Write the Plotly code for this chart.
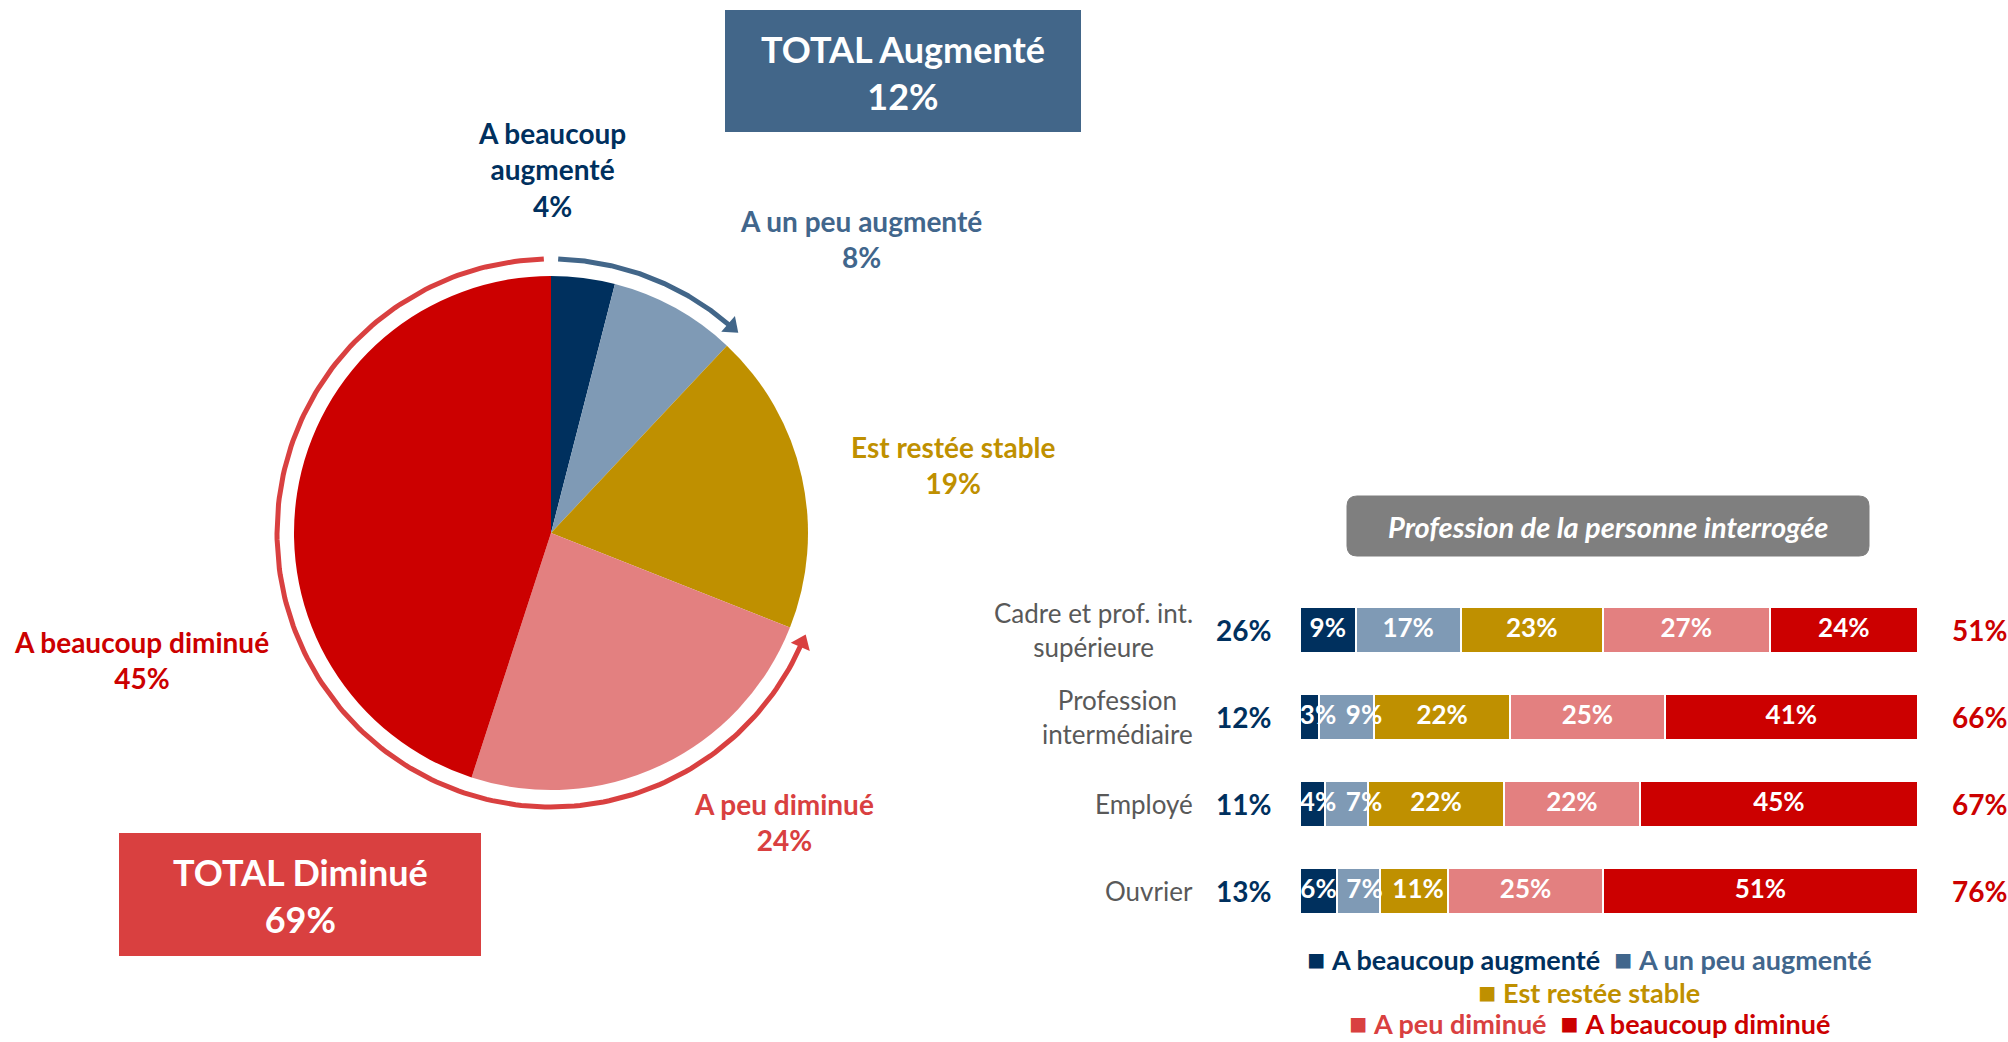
import numpy as np
import plotly.graph_objects as go

W, H = 2008, 1042
FONT = "Lato"

# ---- data ----
answers = ["A beaucoup augmenté", "A un peu augmenté", "Est restée stable",
           "A peu diminué", "A beaucoup diminué"]
pie_values = [4, 8, 19, 24, 45]

professions = ["Cadre et prof. int.<br>supérieure", "Profession<br>intermédiaire",
               "Employé", "Ouvrier"]
beaucoup_augmente = [9, 3, 4, 6]
peu_augmente = [17, 9, 7, 7]
restee_stable = [23, 22, 22, 11]
peu_diminue = [27, 25, 22, 25]
beaucoup_diminue = [24, 41, 45, 51]

fill_colors = ["#00305E", "#7F9AB5", "#BF9000", "#E38080", "#CC0000"]
text_colors = ["#00305E", "#41668C", "#BF9000", "#D94040", "#CC0000"]
box_blue = "#426689"
box_red = "#D94040"
grey_text = "#595959"


def px(x):
    return x / W


def py(y):
    return 1 - y / H


def label(x, y, text, size, color, xanchor="center", **kw):
    kw.setdefault("xref", "paper")
    kw.setdefault("yref", "paper")
    fig.add_annotation(x=x, y=y, text=text, showarrow=False, xanchor=xanchor,
                       yanchor="middle", font=dict(size=size, color=color, family=FONT),
                       **kw)


fig = go.Figure()

# ---- pie ----
cx, cy, r = 551, 533, 257
fig.add_trace(go.Pie(
    values=pie_values, labels=answers, sort=False, direction="clockwise", rotation=0,
    marker=dict(colors=fill_colors, line=dict(width=0)),
    textinfo="none", hoverinfo="label+percent", showlegend=False,
    domain=dict(x=[px(cx - r), px(cx + r)], y=[py(cy + r), py(cy - r)]),
))

# arcs around the pie (overlay axis, 1 unit = pie radius)
ext = 300
ring = 274 / r
total_aug = sum(pie_values[:2])
total_dim = sum(pie_values[3:])


def arc(t0, t1, color, head):
    t = np.radians(np.linspace(t0, t1, 200))
    fig.add_trace(go.Scatter(
        x=ring * np.sin(t), y=ring * np.cos(t), mode="lines",
        line=dict(color=color, width=5), xaxis="x2", yaxis="y2",
        hoverinfo="skip", showlegend=False))
    te = np.radians(t1)
    fig.add_trace(go.Scatter(
        x=[ring * np.sin(te)], y=[ring * np.cos(te)], mode="markers",
        marker=dict(symbol="triangle-up", size=18, color=color, angle=head),
        xaxis="x2", yaxis="y2", hoverinfo="skip", showlegend=False, cliponaxis=False))


end_aug = 360 * total_aug / 100 - 2
arc(1.5, end_aug, box_blue, end_aug + 90)
end_dim = 360 * (100 - total_dim) / 100 + 2
arc(358.5, end_dim, box_red, end_dim - 90)

# pie labels
pie_label_names = ["A beaucoup<br>augmenté"] + answers[1:]
pie_label_pos = [(552, 170), (861, 239), (953, 465), (784, 822), (141, 660)]
for name, v, col, (lx, ly) in zip(pie_label_names, pie_values, text_colors, pie_label_pos):
    label(px(lx), py(ly), f"<b>{name}<br>{v}%</b>", 28, col, align="center")

# total boxes
fig.add_shape(type="rect", xref="paper", yref="paper", x0=px(725), x1=px(1081),
              y0=py(132), y1=py(10), fillcolor=box_blue, line=dict(width=0))
label(px(903), py(72), f"<b>TOTAL Augmenté<br>{total_aug}%</b>", 36, "white", align="center")
fig.add_shape(type="rect", xref="paper", yref="paper", x0=px(119), x1=px(481),
              y0=py(956), y1=py(833), fillcolor=box_red, line=dict(width=0))
label(px(300), py(895), f"<b>TOTAL Diminué<br>{total_dim}%</b>", 36, "white", align="center")

# ---- stacked bars ----
series = [beaucoup_augmente, peu_augmente, restee_stable, peu_diminue, beaucoup_diminue]
for name, vals, col in zip(answers, series, fill_colors):
    fig.add_trace(go.Bar(
        y=professions, x=vals, orientation="h", name=name,
        marker=dict(color=col, line=dict(color="white", width=2)),
        showlegend=False, hovertemplate="%{y}: %{x}%<extra>" + name + "</extra>"))

# segment labels, nudged right when a small segment can't hold its label
bar_x0, bar_x1 = 1300, 1918
unit = (bar_x1 - bar_x0) / 100
lab_x, lab_y, lab_t = [], [], []
for j, prof in enumerate(professions):
    start, prev_right = 0, -10
    for vals in series:
        v = vals[j]
        t = f"{v}%"
        wpx = 15 * (len(t) - 1) + 21
        c = (start + v / 2) * unit
        left = max(c - wpx / 2, prev_right + 10, 0)
        c = left + wpx / 2
        prev_right = left + wpx
        lab_x.append(c / unit)
        lab_y.append(prof)
        lab_t.append(f"<b>{t}</b>")
        start += v
fig.add_trace(go.Scatter(x=lab_x, y=lab_y, text=lab_t, mode="text",
                         textfont=dict(size=26, color="white", family=FONT),
                         hoverinfo="skip", showlegend=False, cliponaxis=False))

for j, prof in enumerate(professions):
    label(px(1195), prof, prof, 26, grey_text, xanchor="right", yref="y", align="center")
    aug = beaucoup_augmente[j] + peu_augmente[j]
    dim = peu_diminue[j] + beaucoup_diminue[j]
    label(px(1273), prof, f"<b>{aug}%</b>", 28, text_colors[0], xanchor="right", yref="y")
    label(px(1950), prof, f"<b>{dim}%</b>", 28, text_colors[4], xanchor="left", yref="y")

# header pill
hx0, hx1, hy0, hy1, rr = 1347, 1869, 496, 556, 10
path = (f"M {px(hx0 + rr)},{py(hy0)} L {px(hx1 - rr)},{py(hy0)} "
        f"Q {px(hx1)},{py(hy0)} {px(hx1)},{py(hy0 + rr)} "
        f"L {px(hx1)},{py(hy1 - rr)} Q {px(hx1)},{py(hy1)} {px(hx1 - rr)},{py(hy1)} "
        f"L {px(hx0 + rr)},{py(hy1)} Q {px(hx0)},{py(hy1)} {px(hx0)},{py(hy1 - rr)} "
        f"L {px(hx0)},{py(hy0 + rr)} Q {px(hx0)},{py(hy0)} {px(hx0 + rr)},{py(hy0)} Z")
fig.add_shape(type="path", path=path, xref="paper", yref="paper",
              fillcolor="#7F7F7F", line=dict(color="#7F7F7F", width=1))
label(px((hx0 + hx1) / 2), py((hy0 + hy1) / 2),
      "<b><i>Profession de la personne interrogée</i></b>", 29, "white")

# legend rows
legend_rows = [[0, 1], [2], [3, 4]]
legend_y = [958, 991, 1022]
for row, ly in zip(legend_rows, legend_y):
    parts = [f"<span style='color:{text_colors[k]}'><span style='font-size:30px'>■</span>"
             f" <b>{answers[k]}</b></span>" for k in row]
    label(px(1589), py(ly), "  ".join(parts), 27, text_colors[0])

fig.update_layout(
    width=W, height=H, margin=dict(l=0, r=0, t=0, b=0),
    paper_bgcolor="white", plot_bgcolor="rgba(0,0,0,0)",
    font=dict(family=FONT),
    barmode="stack", bargap=0.47,
    xaxis=dict(domain=[px(bar_x0), px(bar_x1)], range=[0, 100], visible=False, fixedrange=True),
    yaxis=dict(domain=[py(934.5), py(586.5)], autorange="reversed", visible=False,
               fixedrange=True),
    xaxis2=dict(domain=[px(cx - ext), px(cx + ext)], range=[-ext / r, ext / r],
                visible=False, anchor="y2"),
    yaxis2=dict(domain=[py(cy + ext), py(cy - ext)], range=[-ext / r, ext / r],
                visible=False, anchor="x2"),
)

fig.write_html("out.html", config={"displayModeBar": False},
               post_script="document.body.style.margin='0';")
